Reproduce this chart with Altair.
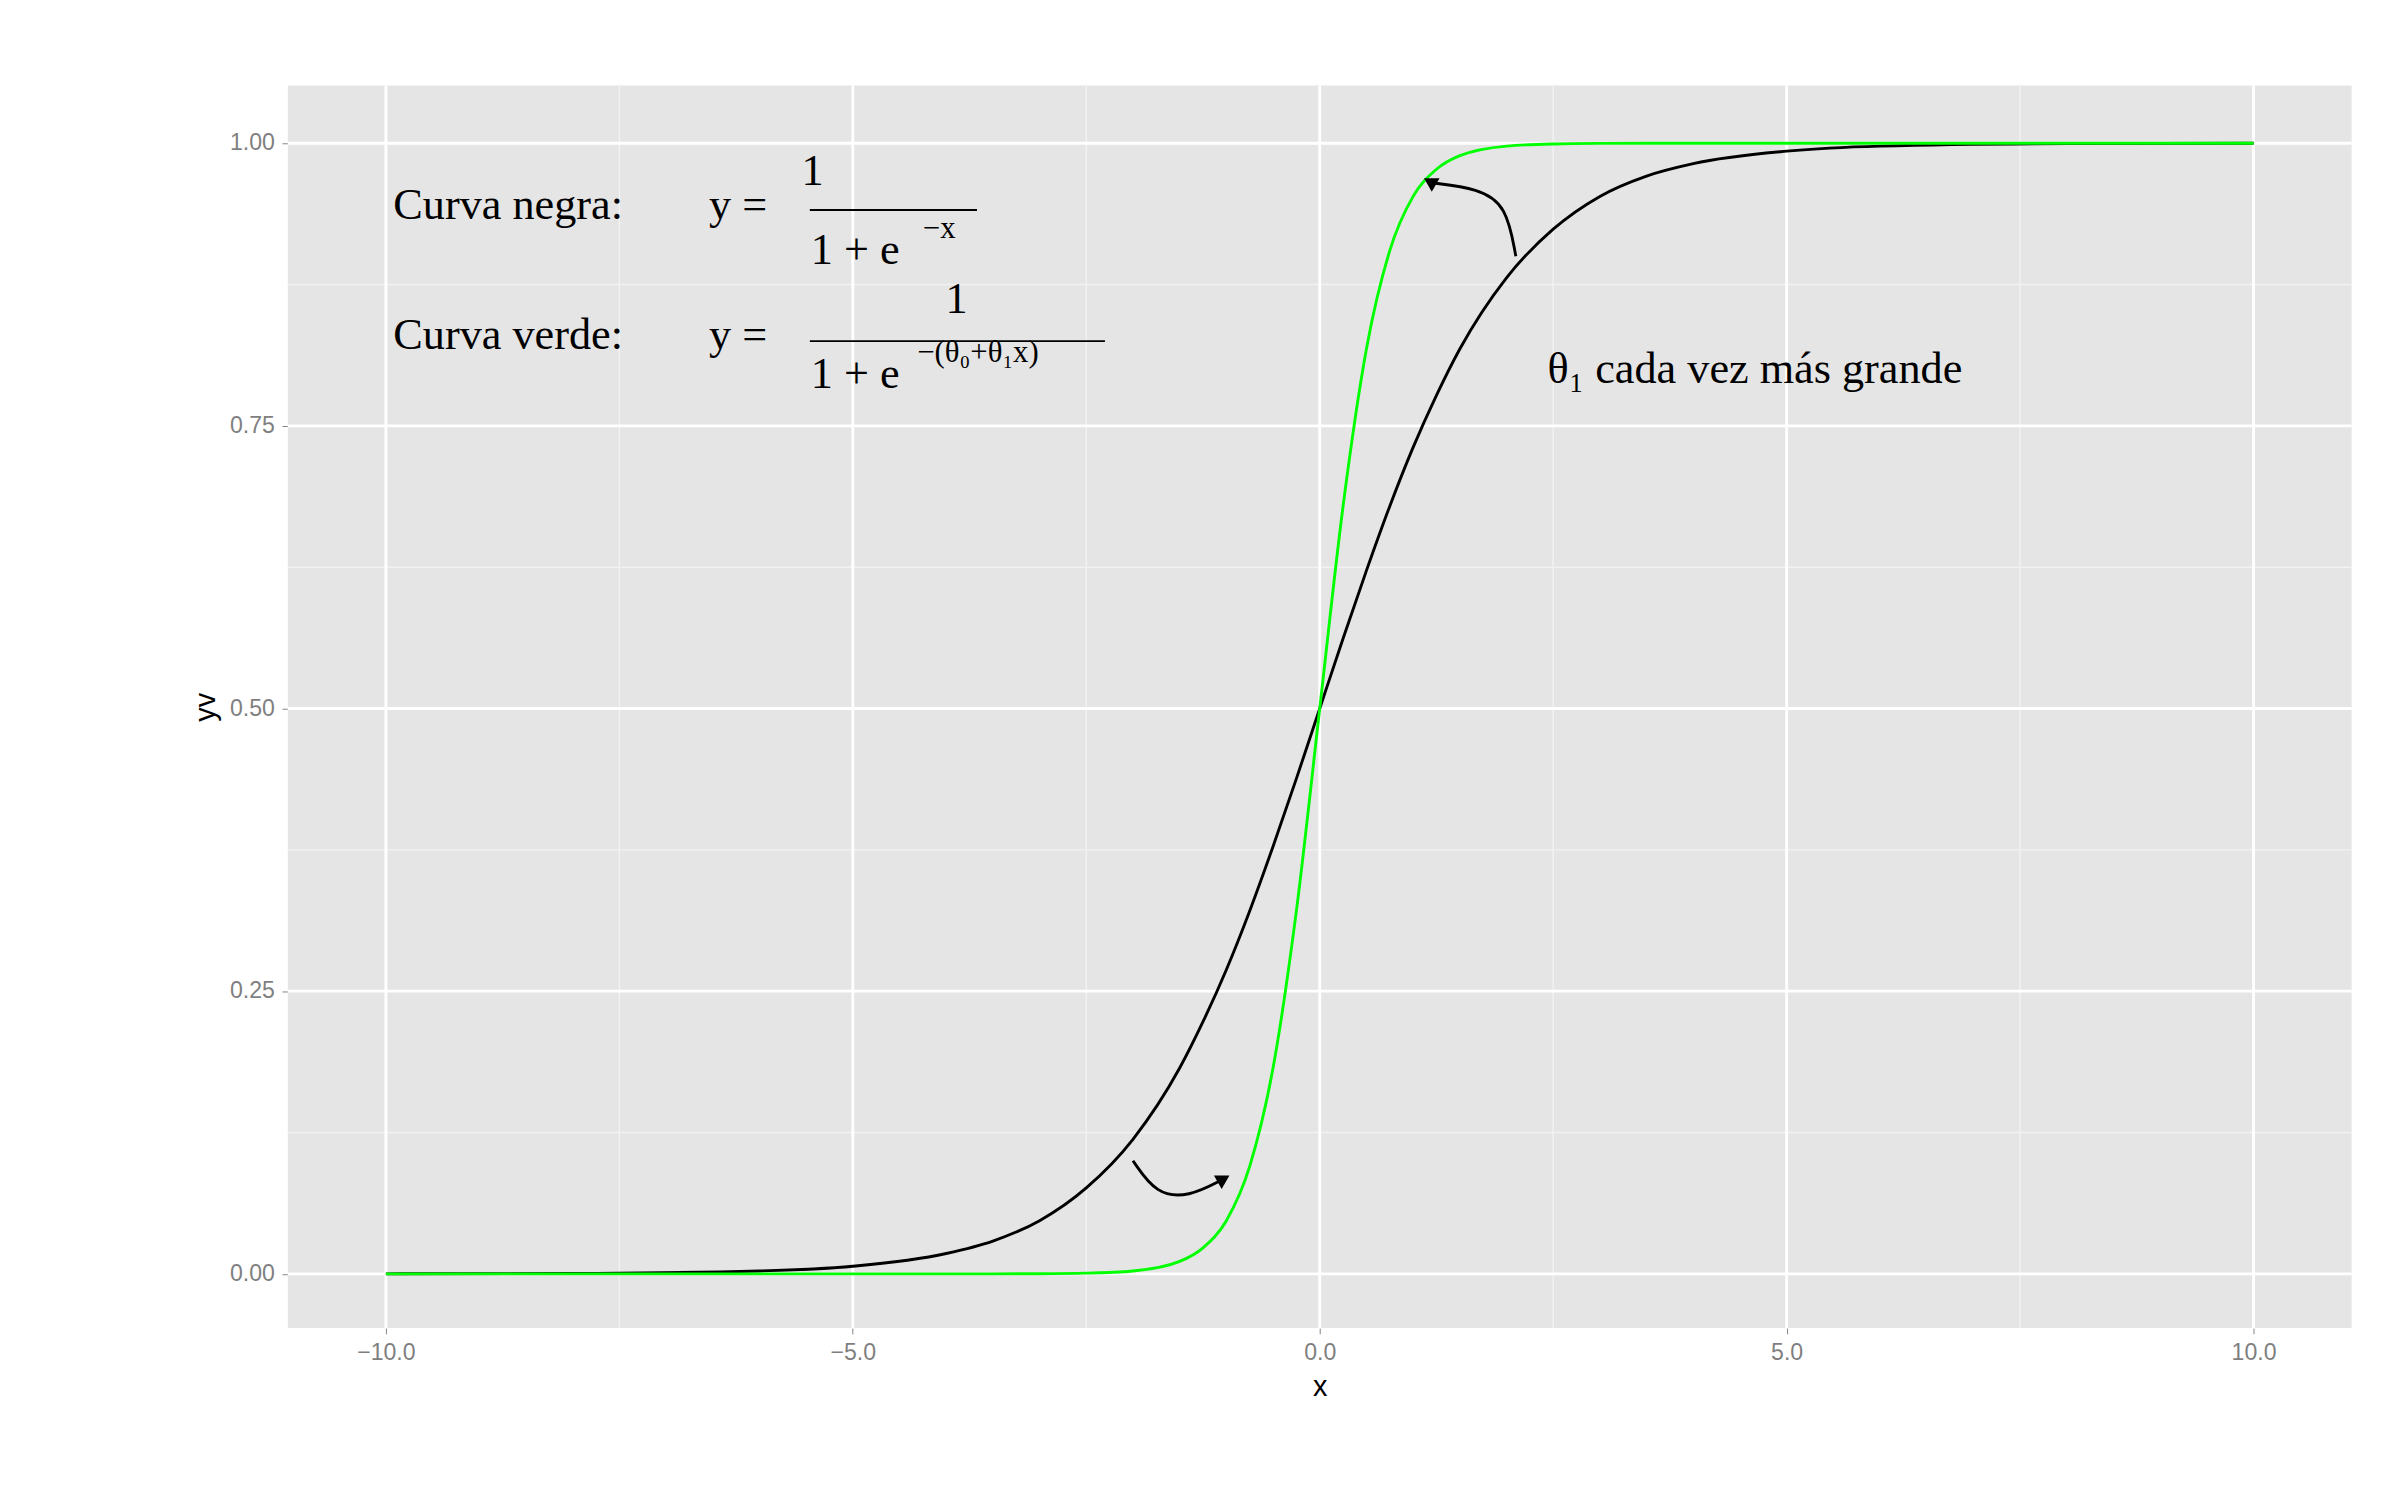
import altair as alt
import pandas as pd

# values
xs = [-10, -8, -6, -5, -4, -3.5, -3, -2.5, -2, -1.5, -1.25, -1, -0.75, -0.5, -0.25, 0,
      0.25, 0.5, 0.75, 1, 1.25, 1.5, 2, 2.5, 3, 3.5, 4, 5, 6, 8, 10]
black = [0.0, 0.0003, 0.0025, 0.0067, 0.018, 0.029, 0.047, 0.076, 0.119, 0.182, 0.223,
         0.269, 0.321, 0.378, 0.438, 0.5, 0.562, 0.622, 0.679, 0.731, 0.777, 0.818,
         0.881, 0.924, 0.953, 0.971, 0.982, 0.993, 0.9975, 0.9997, 1.0]
green = [0.0, 0.0, 0.0, 0.0, 0.0, 0.0, 0.0001, 0.0006, 0.0025, 0.011, 0.023, 0.047,
         0.095, 0.182, 0.321, 0.5, 0.679, 0.818, 0.905, 0.953, 0.977, 0.989, 0.9975,
         0.9994, 0.9999, 1.0, 1.0, 1.0, 1.0, 1.0, 1.0]

major_x = [-10, -5, 0, 5, 10]
minor_x = [-7.5, -2.5, 2.5, 7.5]
major_y = [0, 0.25, 0.5, 0.75, 1.0]
minor_y = [0.125, 0.375, 0.625, 0.875]

arrow1_x = [2.1, 2.0, 1.7, 1.2]
arrow1_y = [0.9, 0.945, 0.96, 0.965]
arrow2_x = [-2.0, -1.75, -1.4, -1.05]
arrow2_y = [0.10, 0.07, 0.068, 0.083]

W, H = 2146, 1292
xsc = alt.Scale(domain=[-11.05, 11.05], nice=False, zero=False)
ysc = alt.Scale(domain=[-0.048, 1.051], nice=False, zero=False)
SERIF = "Liberation Serif"

bg = alt.Chart(pd.DataFrame({"a": [0]})).mark_rect(color="#e5e5e5").encode(
    x=alt.value(0), x2=alt.value(W), y=alt.value(0), y2=alt.value(H))

minor_v = alt.Chart(pd.DataFrame({"v": minor_x})).mark_rule(color="#f2f2f2", strokeWidth=1.5).encode(
    x=alt.X("v:Q", scale=xsc))
minor_h = alt.Chart(pd.DataFrame({"v": minor_y})).mark_rule(color="#f2f2f2", strokeWidth=1.5).encode(
    y=alt.Y("v:Q", scale=ysc))
major_v = alt.Chart(pd.DataFrame({"v": major_x})).mark_rule(color="white", strokeWidth=3).encode(
    x=alt.X("v:Q", scale=xsc))
major_h = alt.Chart(pd.DataFrame({"v": major_y})).mark_rule(color="white", strokeWidth=3).encode(
    y=alt.Y("v:Q", scale=ysc))

df = pd.DataFrame({"x": xs, "black": black, "green": green})
axis_x = alt.Axis(values=major_x, grid=False, domain=False, labelFontSize=24, labelColor="#7f7f7f",
                  tickColor="#7f7f7f", tickSize=6, titleFontSize=30, titleFontWeight="normal",
                  labelPadding=8, titlePadding=8)
axis_y = alt.Axis(values=major_y, format=".2f", grid=False, domain=False, labelFontSize=24,
                  labelColor="#7f7f7f", tickColor="#7f7f7f", tickSize=6, titleFontSize=30,
                  titleFontWeight="normal", labelPadding=8, titlePadding=10)
line_b = alt.Chart(df).mark_line(color="black", strokeWidth=3, interpolate="monotone").encode(
    x=alt.X("x:Q", scale=xsc, axis=axis_x, title="x"),
    y=alt.Y("black:Q", scale=ysc, axis=axis_y, title="yv"))
line_g = alt.Chart(df).mark_line(color="#00ff00", strokeWidth=3, interpolate="monotone").encode(
    x=alt.X("x:Q", scale=xsc), y=alt.Y("green:Q", scale=ysc))


def arrow(ax, ay, angle):
    d = pd.DataFrame({"x": ax, "y": ay, "o": list(range(len(ax)))})
    ln = alt.Chart(d).mark_line(color="black", strokeWidth=3, interpolate="basis").encode(
        x=alt.X("x:Q", scale=xsc), y=alt.Y("y:Q", scale=ysc), order="o:Q")
    hd = alt.Chart(d.tail(1)).mark_point(shape="triangle", filled=True, color="black", size=260,
                                         opacity=1, angle=angle).encode(
        x=alt.X("x:Q", scale=xsc), y=alt.Y("y:Q", scale=ysc))
    return ln + hd


labels = pd.DataFrame({
    "x": [-9.92, -6.54, -5.43, -5.45, -4.25, -9.92, -6.54, -3.89, -5.45, -4.31, 2.44],
    "y": [0.945, 0.945, 0.975, 0.905, 0.925, 0.83, 0.83, 0.862, 0.795, 0.815, 0.80],
    "t": ["Curva negra:", "y =", "1", "1 + e", "−x", "Curva verde:", "y =", "1", "1 + e",
          "−(θ₀+θ₁x)", "θ₁ cada vez más grande"],
    "s": [46, 46, 46, 46, 32, 46, 46, 46, 46, 32, 46],
    "a": ["left", "left", "center", "left", "left", "left", "left", "center", "left", "left", "left"],
})
num = labels[labels["a"] == "center"]
rest = labels[labels["a"] == "left"]
texts = alt.Chart(rest).mark_text(font=SERIF, baseline="middle", align="left", color="black").encode(
    x=alt.X("x:Q", scale=xsc), y=alt.Y("y:Q", scale=ysc), text="t:N", size=alt.Size("s:Q", scale=None))
nums = alt.Chart(num).mark_text(font=SERIF, baseline="middle", align="center", color="black", fontSize=46).encode(
    x=alt.X("x:Q", scale=xsc), y=alt.Y("y:Q", scale=ysc), text="t:N")

bars = pd.DataFrame({"x": [-5.46, -5.46], "x2": [-3.67, -2.3], "y": [0.941, 0.825]})
frac = alt.Chart(bars).mark_rule(color="black", strokeWidth=2).encode(
    x=alt.X("x:Q", scale=xsc), x2="x2:Q", y=alt.Y("y:Q", scale=ysc))

chart = alt.layer(
    bg, minor_v, minor_h, major_v, major_h, line_b, line_g,
    arrow(arrow1_x, arrow1_y, 300), arrow(arrow2_x, arrow2_y, 60),
    texts, nums, frac,
).properties(
    width=W, height=H,
    padding={"left": 190, "top": 50, "right": 40, "bottom": 20},
    background="white",
).configure_view(stroke=None).configure_axis(labelFont="Liberation Sans", titleFont="Liberation Sans")

chart.save("out.html", embed_options={"renderer": "svg", "actions": False})
